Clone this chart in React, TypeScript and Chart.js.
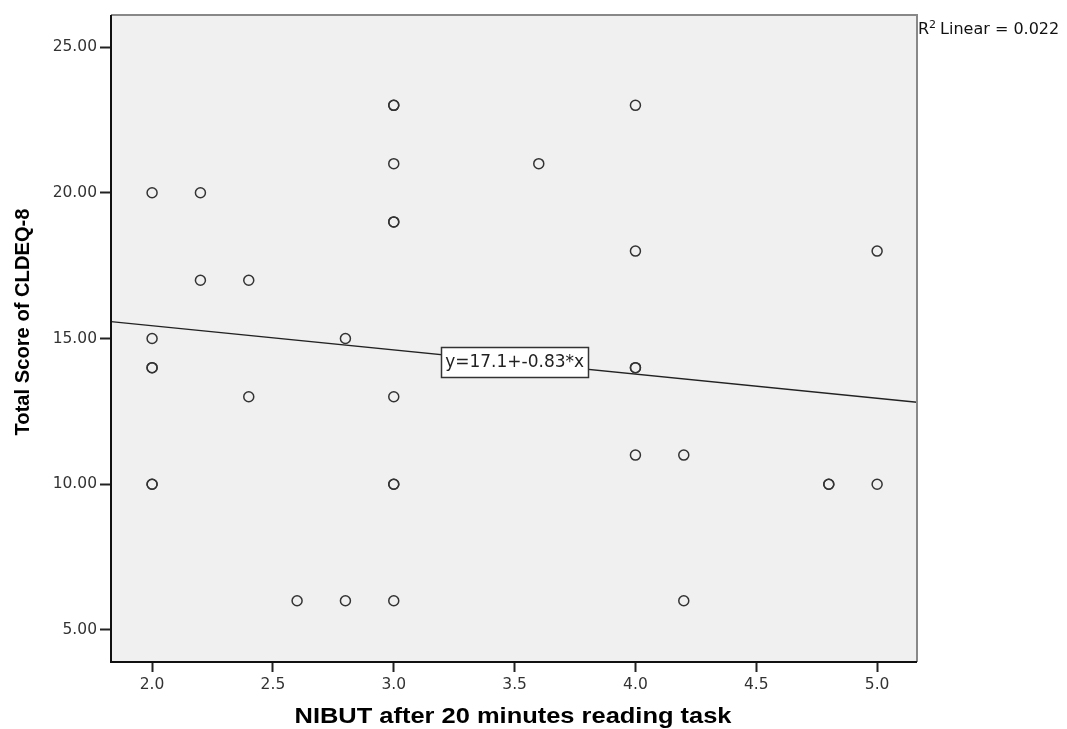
import React, { useEffect, useRef } from "react";
import { Chart, registerables } from "chart.js";

Chart.register(...registerables);

// NIBUT (x) and CLDEQ-8 total score (y); repeated pairs drawn twice (overlapping cases)
const nibut = [2.0, 2.2, 2.2, 2.4, 2.0, 2.8, 2.0, 2.0, 2.4, 2.0, 2.0, 2.6, 2.8, 3.0, 3.0, 3.0, 3.0, 3.0, 3.0, 3.0, 3.0, 3.0, 3.6, 4.0, 4.0, 4.0, 4.0, 4.0, 4.2, 4.2, 4.8, 4.8, 5.0, 5.0];
const cldeq = [20, 20, 17, 17, 15, 15, 14, 14, 13, 10, 10, 6, 6, 6, 23, 23, 21, 19, 19, 13, 10, 10, 21, 23, 18, 14, 14, 11, 11, 6, 10, 10, 18, 10];

const xTicks = [2.0, 2.5, 3.0, 3.5, 4.0, 4.5, 5.0];
const yTicks = [5, 10, 15, 20, 25];

const intercept = 17.1;
const slope = -0.83;
const rSquared = "0.022";
const equationText = "y=17.1+-0.83*x";
const equationAnchor = { x: 3.5, y: 14.2 };
const xTitle = "NIBUT after 20 minutes reading task";
const yTitle = "Total Score of CLDEQ-8";

const xMin = 1.83;
const xMax = 5.165;
const yMin = 3.9;
const yMax = 26.1;

const SANS = "'Liberation Sans', Arial, sans-serif";
const WIDE = "'DejaVu Sans', sans-serif";

export default function App() {
  const ref = useRef<HTMLCanvasElement>(null);

  useEffect(() => {
    document.body.style.margin = "0";
    const canvas = ref.current;
    if (!canvas) return;

    const points = nibut.map((x, i) => ({ x, y: cldeq[i] }));
    const fitLine = [
      { x: xMin, y: intercept + slope * xMin },
      { x: xMax, y: intercept + slope * xMax },
    ];

    const decor = {
      id: "decor",
      beforeDatasetsDraw(chart: any) {
        const { ctx, chartArea: a } = chart;
        ctx.save();
        ctx.fillStyle = "#f0f0f0";
        ctx.fillRect(a.left, a.top, a.right - a.left, a.bottom - a.top);
        ctx.restore();
      },
      afterDatasetsDraw(chart: any) {
        const { ctx, chartArea: a, scales } = chart;
        ctx.save();
        // equation box
        const cx = scales.x.getPixelForValue(equationAnchor.x);
        const cy = scales.y.getPixelForValue(equationAnchor.y);
        ctx.font = `17px ${WIDE}`;
        const tw = ctx.measureText(equationText).width;
        const bw = Math.round(tw + 8);
        const bh = 30;
        const bx = Math.round(cx - bw / 2);
        const byy = Math.round(cy - bh / 2);
        ctx.fillStyle = "#ffffff";
        ctx.fillRect(bx, byy, bw, bh);
        ctx.strokeStyle = "#333";
        ctx.lineWidth = 1.5;
        ctx.strokeRect(bx + 0.5, byy + 0.5, bw, bh);
        ctx.fillStyle = "#222";
        ctx.textAlign = "center";
        ctx.textBaseline = "middle";
        ctx.fillText(equationText, cx, cy + 1);

        // frame
        ctx.lineWidth = 2;
        ctx.strokeStyle = "#888";
        ctx.beginPath();
        ctx.moveTo(a.left, a.top);
        ctx.lineTo(a.right, a.top);
        ctx.lineTo(a.right, a.bottom);
        ctx.stroke();
        ctx.strokeStyle = "#111";
        ctx.beginPath();
        ctx.moveTo(a.left, a.top);
        ctx.lineTo(a.left, a.bottom);
        ctx.lineTo(a.right, a.bottom);
        ctx.stroke();

        // R² label
        ctx.fillStyle = "#111";
        ctx.textAlign = "left";
        ctx.textBaseline = "alphabetic";
        let tx = a.right + 1;
        const by = 34;
        ctx.font = `16px ${WIDE}`;
        ctx.fillText("R", tx, by);
        tx += ctx.measureText("R").width;
        ctx.font = `11px ${WIDE}`;
        ctx.fillText("2", tx, by - 6);
        tx += ctx.measureText("2").width + 4;
        ctx.font = `16px ${WIDE}`;
        ctx.fillText(`Linear = ${rSquared}`, tx, by);

        // x title (stretched to match reference width)
        ctx.fillStyle = "#000";
        ctx.textAlign = "center";
        ctx.textBaseline = "middle";
        ctx.font = `bold 22px ${SANS}`;
        const xw = ctx.measureText(xTitle).width;
        const sx = 437 / xw;
        ctx.save();
        ctx.translate((a.left + a.right) / 2 - 1, 717);
        ctx.scale(sx, 1);
        ctx.fillText(xTitle, 0, 0);
        ctx.restore();

        // y title
        ctx.font = `bold 20px ${SANS}`;
        const yw = ctx.measureText(yTitle).width;
        ctx.save();
        ctx.translate(23, 322);
        ctx.rotate(-Math.PI / 2);
        ctx.scale(227 / yw, 1);
        ctx.fillText(yTitle, 0, 0);
        ctx.restore();
        ctx.restore();
      },
    };

    const chart = new Chart(canvas, {
      type: "scatter",
      data: {
        datasets: [
          {
            type: "line",
            data: fitLine,
            borderColor: "#222",
            borderWidth: 1.3,
            pointRadius: 0,
            fill: false,
            order: 2,
          } as any,
          {
            data: points,
            pointStyle: "circle",
            pointRadius: 5,
            borderWidth: 1.5,
            borderColor: "#333",
            backgroundColor: "rgba(0,0,0,0)",
            order: 1,
          },
        ],
      },
      options: {
        animation: false,
        responsive: false,
        devicePixelRatio: 1,
        layout: { padding: { left: 0, right: 150, top: 15, bottom: 0 } },
        plugins: { legend: { display: false }, tooltip: { enabled: false } },
        scales: {
          x: {
            type: "linear",
            min: xMin,
            max: xMax,
            afterBuildTicks: (s: any) => {
              s.ticks = xTicks.map((v) => ({ value: v }));
            },
            afterFit: (s: any) => {
              s.height = 67;
            },
            border: { display: false },
            grid: { drawOnChartArea: false, drawTicks: true, tickLength: 10, tickColor: "#222", tickWidth: 2 },
            ticks: {
              padding: 4,
              color: "#333",
              font: { family: WIDE, size: 15.5 },
              callback: (v: any) => Number(v).toFixed(1),
              maxRotation: 0,
            },
            title: { display: false },
          },
          y: {
            type: "linear",
            min: yMin,
            max: yMax,
            afterBuildTicks: (s: any) => {
              s.ticks = yTicks.map((v) => ({ value: v }));
            },
            afterFit: (s: any) => {
              s.width = 111;
            },
            border: { display: false },
            grid: { drawOnChartArea: false, drawTicks: true, tickLength: 11, tickColor: "#222", tickWidth: 2 },
            ticks: {
              padding: 3,
              color: "#333",
              font: { family: WIDE, size: 15.5 },
              callback: (v: any) => Number(v).toFixed(2),
            },
            title: { display: false },
          },
        },
      },
      plugins: [decor],
    });

    return () => chart.destroy();
  }, []);

  return <canvas ref={ref} width={1067} height={729} style={{ display: "block" }} />;
}
